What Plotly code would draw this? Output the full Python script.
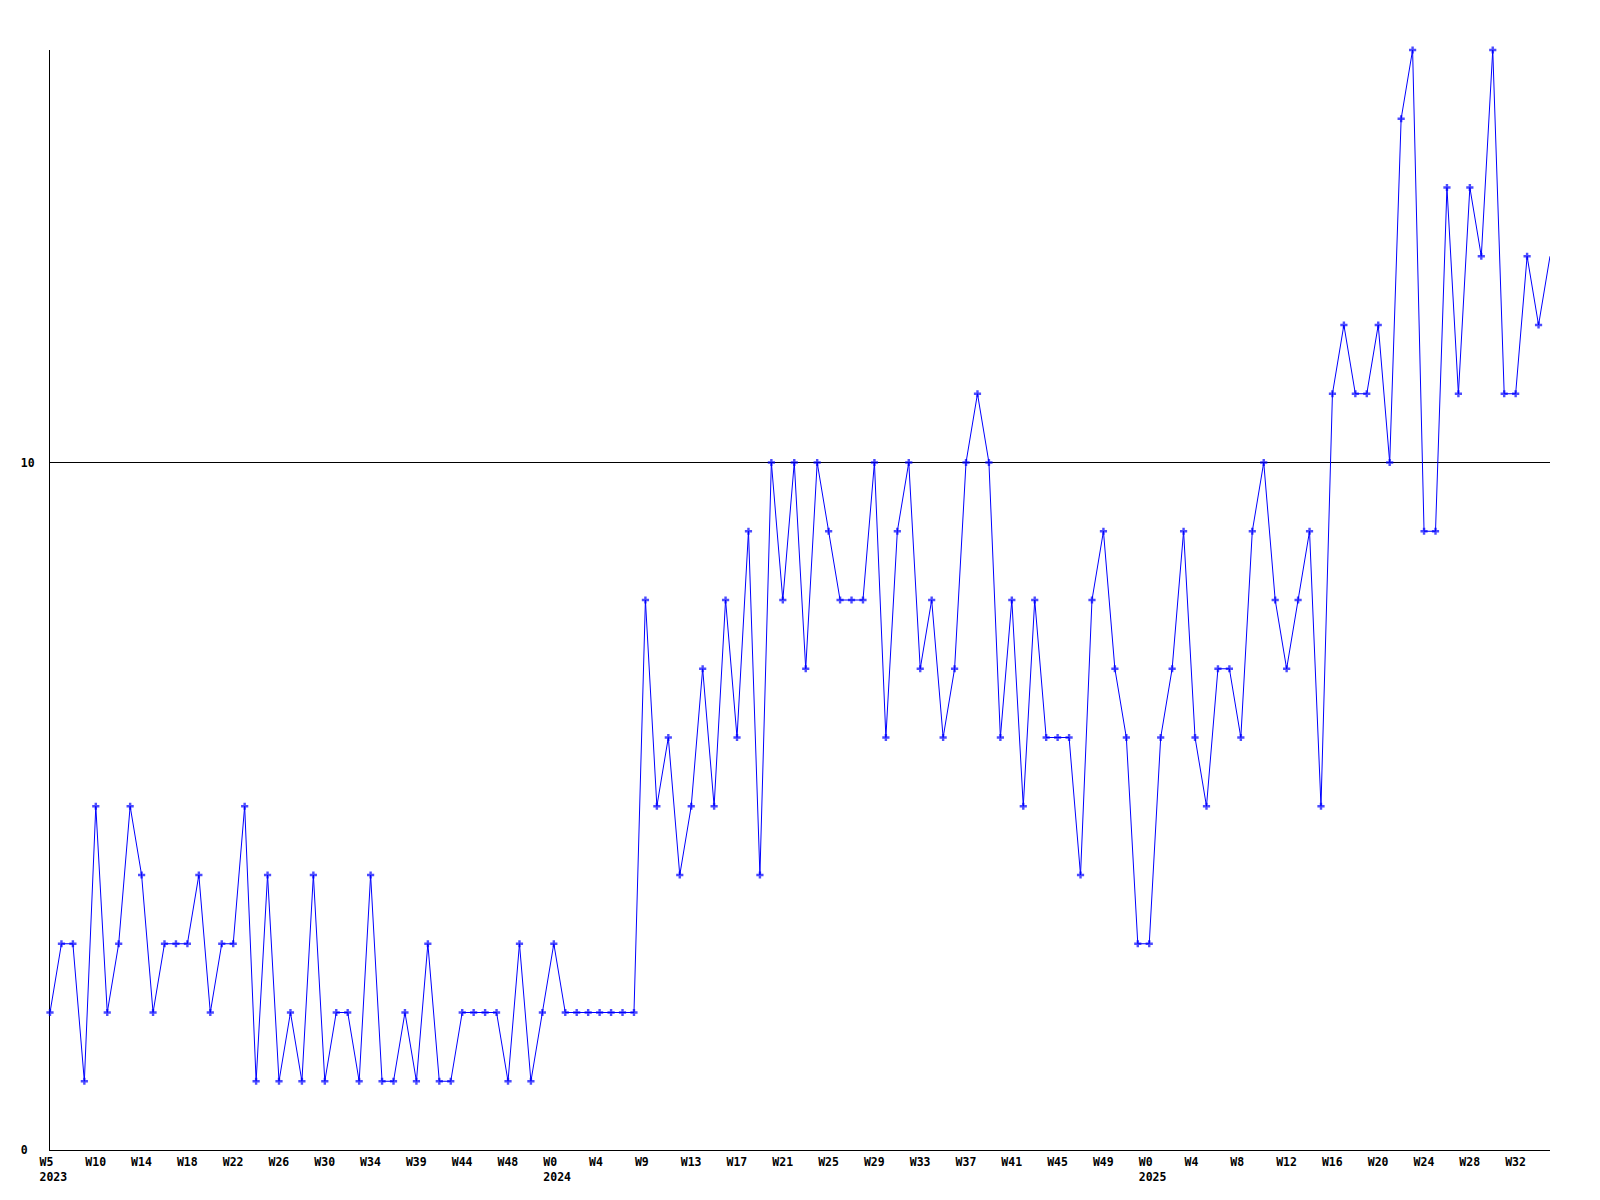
import plotly.graph_objects as go

# Weekly counts (one value per point)
values = [2, 3, 3, 1, 5, 2, 3, 5, 4, 2,
          3, 3, 3, 4, 2, 3, 3, 5, 1, 4,
          1, 2, 1, 4, 1, 2, 2, 1, 4, 1,
          1, 2, 1, 3, 1, 1, 2, 2, 2, 2,
          1, 3, 1, 2, 3, 2, 2, 2, 2, 2,
          2, 2, 8, 5, 6, 4, 5, 7, 5, 8,
          6, 9, 4, 10, 8, 10, 7, 10, 9, 8,
          8, 8, 10, 6, 9, 10, 7, 8, 6, 7,
          10, 11, 10, 6, 8, 5, 8, 6, 6, 6,
          4, 8, 9, 7, 6, 3, 3, 6, 7, 9,
          6, 5, 7, 7, 6, 9, 10, 8, 7, 8,
          9, 5, 11, 12, 11, 11, 12, 10, 15, 16,
          9, 9, 14, 11, 14, 13, 16, 11, 11, 13,
          12, 13]

# Tick labels placed every 4 points
week_labels = ["W5", "W10", "W14", "W18", "W22", "W26", "W30", "W34", "W39",
               "W44", "W48", "W0", "W4", "W9", "W13", "W17", "W21", "W25",
               "W29", "W33", "W37", "W41", "W45", "W49", "W0", "W4", "W8",
               "W12", "W16", "W20", "W24", "W28", "W32"]
year_labels = {0: "2023", 11: "2024", 24: "2025"}
tick_step = 4

y_ticks = [0, 10]
y_tick_text = ["0\u00a0", "10"]

x = list(range(len(values)))
tickvals = [i * tick_step for i in range(len(week_labels))]
ticktext = [w + ("<br>" + year_labels[i] if i in year_labels else "")
            for i, w in enumerate(week_labels)]

marker_sizes = [6] * (len(values) - 1) + [0]

font = dict(family="DejaVu Sans Mono", size=11.5, color="black", weight="bold")

fig = go.Figure()
fig.add_trace(go.Scatter(
    x=x, y=values, mode="lines+markers",
    line=dict(color="#0000ff", width=1),
    marker=dict(symbol="cross", size=marker_sizes, color="#0000ff",
                line=dict(width=0)),
    cliponaxis=False, hoverinfo="skip", showlegend=False,
))

fig.update_layout(
    width=1600, height=1200,
    margin=dict(l=50, r=50, t=50, b=50),
    paper_bgcolor="white", plot_bgcolor="white",
    font=font,
    showlegend=False,
)
fig.update_xaxes(
    range=[0, len(values) - 1],
    tickmode="array", tickvals=tickvals, ticktext=ticktext,
    showgrid=False, zeroline=False,
    showline=True, linecolor="black", linewidth=1,
    ticks="", ticklabelposition="outside right",
    ticklabelshift=-11, ticklabelstandoff=1,
    tickfont=font, layer="below traces",
)
fig.update_yaxes(
    range=[0, 16],
    tickmode="array", tickvals=y_ticks, ticktext=y_tick_text,
    showgrid=True, gridcolor="black", gridwidth=1,
    zeroline=False,
    showline=True, linecolor="black", linewidth=1,
    ticks="", ticklabelstandoff=12,
    tickfont=font, layer="below traces",
)

fig.write_html("out.html", config={"displayModeBar": False},
               post_script="document.body.style.margin='0';")
